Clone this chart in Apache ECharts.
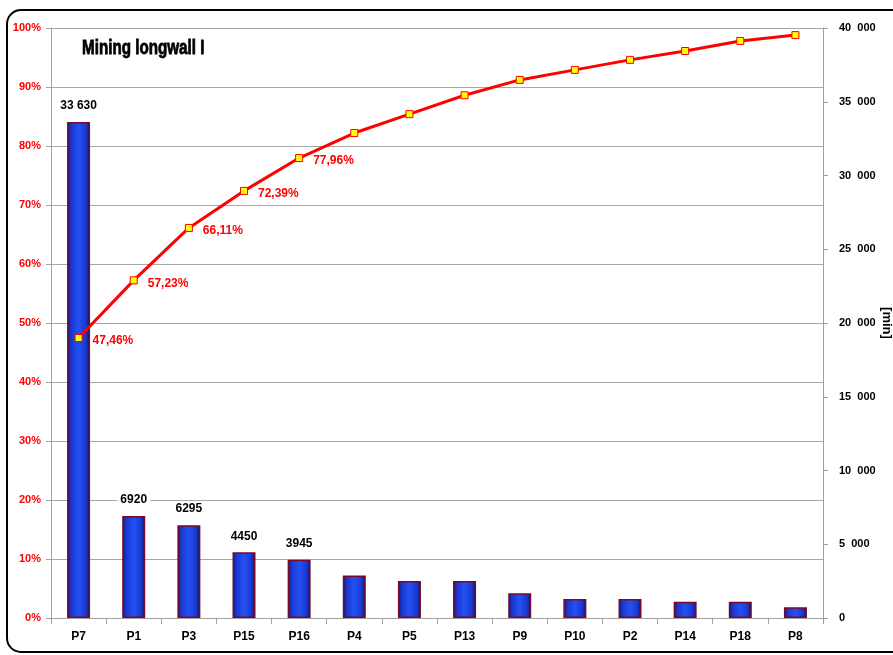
<!DOCTYPE html>
<html>
<head>
<meta charset="utf-8">
<script src="https://cdn.jsdelivr.net/npm/echarts@6/dist/echarts.min.js"></script>
<style>
  html, body { margin: 0; padding: 0; background: #fff; }
  #chart { width: 893px; height: 655px; }
</style>
</head>
<body>
<div id="chart"></div>
<script>
// kategorie (przestoje wg przyczyn)
const categories = ['P7', 'P1', 'P3', 'P15', 'P16', 'P4', 'P5', 'P13', 'P9', 'P10', 'P2', 'P14', 'P18', 'P8'];
// czas przestoju [min]
const minutes = [33630, 6920, 6295, 4450, 3945, 2880, 2510, 2510, 1675, 1290, 1290, 1105, 1105, 725];
// skumulowany udzial [%]
const cumulative = [47.46, 57.23, 66.11, 72.39, 77.96, 82.2, 85.4, 88.6, 91.2, 92.9, 94.6, 96.1, 97.8, 98.8];
// ile etykiet pokazac
const labelCount = 5;

const font = '"Liberation Sans", Arial, sans-serif';

function spaced(v) {
  return v >= 10000 ? String(v).replace(/\B(?=(\d{3})+(?!\d))/g, ' ') : String(v);
}

const barFill = new echarts.graphic.LinearGradient(0, 0, 1, 0, [
  { offset: 0, color: '#0c1a78' },
  { offset: 0.18, color: '#1a38d0' },
  { offset: 0.5, color: '#2352f2' },
  { offset: 0.82, color: '#1a38d0' },
  { offset: 1, color: '#0a1258' },
]);

const chart = echarts.init(document.getElementById('chart'));

const option = {
  animation: false,
  textStyle: { fontFamily: font },
  graphic: [
    {
      type: 'rect',
      shape: { x: 7, y: 10, width: 910, height: 642, r: 14 },
      style: { fill: 'none', stroke: '#000', lineWidth: 2 },
      z: 0,
    },
    {
      type: 'text',
      x: 82,
      y: 38,
      scaleX: 0.76,
      style: {
        text: 'Mining longwall I',
        fontFamily: font,
        fontWeight: 'bold',
        fontSize: 20,
        fill: '#000',
        stroke: '#000',
        lineWidth: 0.8,
      },
    },
  ],
  grid: { left: 51, right: 70, top: 28, bottom: 37, outerBoundsMode: 'none' },
  xAxis: {
    type: 'category',
    data: categories,
    axisLine: { lineStyle: { color: '#a0a0a0' } },
    axisTick: { show: true, alignWithLabel: false, length: 6, lineStyle: { color: '#a0a0a0' } },
    axisLabel: { color: '#000', fontWeight: 'bold', fontSize: 12, margin: 13, fontFamily: font },
  },
  yAxis: [
    {
      type: 'value',
      min: 0,
      max: 100,
      interval: 10,
      position: 'left',
      axisLine: { show: true, lineStyle: { color: '#a0a0a0' } },
      axisTick: { show: true, length: 5, lineStyle: { color: '#a0a0a0' } },
      axisLabel: { color: '#ff0000', fontWeight: 'bold', fontSize: 11, formatter: '{value}%', margin: 10, fontFamily: font },
      splitLine: { show: true, lineStyle: { color: '#a8a8a8', width: 1 } },
    },
    {
      type: 'value',
      min: 0,
      max: 40000,
      interval: 5000,
      position: 'right',
      name: '[min]',
      nameLocation: 'middle',
      nameGap: 57,
      nameMoveOverlap: false,
      nameRotate: -90,
      nameTextStyle: { color: '#000', fontWeight: 'bold', fontSize: 13, fontFamily: font },
      axisLine: { show: true, lineStyle: { color: '#a0a0a0' } },
      axisTick: { show: true, length: 5, lineStyle: { color: '#a0a0a0' } },
      axisLabel: {
        color: '#000', fontWeight: 'bold', fontSize: 11, margin: 16, fontFamily: font,
        formatter: (v) => (v >= 1000 ? (v / 1000) + '  000' : String(v)),
      },
      splitLine: { show: false },
    },
  ],
  series: [
    {
      type: 'bar',
      yAxisIndex: 1,
      data: minutes,
      barWidth: 23,
      itemStyle: { color: barFill, borderColor: '#7a0828', borderWidth: 1.5 },
      label: {
        show: true,
        position: 'top',
        distance: 10,
        color: '#000',
        fontWeight: 'bold',
        fontSize: 12,
        fontFamily: font,
        backgroundColor: '#fff',
        padding: [0, 3],
        formatter: (p) => (p.dataIndex < labelCount ? spaced(p.value) : ''),
      },
      z: 2,
    },
    {
      type: 'line',
      yAxisIndex: 0,
      data: cumulative,
      symbol: 'rect',
      symbolSize: 7,
      lineStyle: { color: '#ff0000', width: 3 },
      itemStyle: { color: '#ffff00', borderColor: '#ff0000', borderWidth: 1 },
      label: {
        show: true,
        position: 'right',
        distance: 10,
        offset: [0, 3],
        color: '#ff0000',
        fontWeight: 'bold',
        fontSize: 12,
        fontFamily: font,
        formatter: (p) => (p.dataIndex < labelCount ? p.value.toFixed(2).replace('.', ',') + '%' : ''),
      },
      z: 5,
    },
  ],
};

chart.setOption(option);
</script>
</body>
</html>
